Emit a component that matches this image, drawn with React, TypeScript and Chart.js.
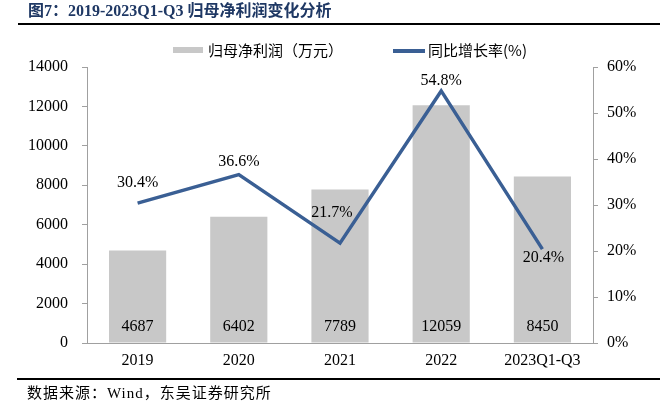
import React, { useEffect, useRef } from "react";
import { Chart, registerables } from "chart.js";

Chart.register(...registerables);

const categories = ["2019", "2020", "2021", "2022", "2023Q1-Q3"];
const profitValues = [4687, 6402, 7789, 12059, 8450];
const growthValues = [30.4, 36.6, 21.7, 54.8, 20.4];
const leftTickValues = [0, 2000, 4000, 6000, 8000, 10000, 12000, 14000];
const rightTickValues = [0, 10, 20, 30, 40, 50, 60];

const profitLabel = "归母净利润（万元）";
const growthLabel = "同比增长率(%)";
const titleText = "图7：2019-2023Q1-Q3 归母净利润变化分析";
const sourceText = "数据来源：Wind，东吴证券研究所";

// label placement style (offset from each growth point, px)
const growthLabelOffsets: [number, number][] = [
  [0, -20],
  [0, -13],
  [-8, -30],
  [0, -10],
  [1, 9],
];

const BAR_COLOR = "#C8C8C8";
const LINE_COLOR = "#3A5F94";
const AXIS_COLOR = "#A0A0A0";
const TITLE_COLOR = "#1F3864";
const SERIF = "'Liberation Serif', 'Noto Sans CJK SC', serif";
const CJK = "'Noto Sans CJK SC', 'Liberation Serif', sans-serif";

const valueLabelPlugin = {
  id: "valueLabels",
  afterDatasetsDraw(chart: any) {
    const ctx = chart.ctx;
    ctx.save();
    ctx.font = "16px 'Liberation Serif'";
    ctx.fillStyle = "#000";
    ctx.textAlign = "center";
    ctx.textBaseline = "middle";
    const barMeta = chart.getDatasetMeta(0);
    barMeta.data.forEach((el: any, i: number) => {
      ctx.fillText(String(profitValues[i]), el.x, el.base - 16);
    });
    const lineMeta = chart.getDatasetMeta(1);
    lineMeta.data.forEach((el: any, i: number) => {
      const [dx, dy] = growthLabelOffsets[i] || [0, -12];
      ctx.fillText(growthValues[i].toFixed(1) + "%", el.x + dx, el.y + dy);
    });
    ctx.restore();
  },
};

export default function App() {
  const canvasRef = useRef<HTMLCanvasElement | null>(null);

  useEffect(() => {
    if (!canvasRef.current) return;
    Chart.defaults.font.family = SERIF;
    const chart = new Chart(canvasRef.current, {
      type: "bar",
      data: {
        labels: categories,
        datasets: [
          {
            type: "bar",
            label: profitLabel,
            data: profitValues,
            backgroundColor: BAR_COLOR,
            borderWidth: 0,
            barPercentage: 0.565,
            categoryPercentage: 1,
            yAxisID: "y",
            order: 2,
          },
          {
            type: "line",
            label: growthLabel,
            data: growthValues,
            borderColor: LINE_COLOR,
            backgroundColor: LINE_COLOR,
            borderWidth: 3.5,
            pointRadius: 0,
            pointHoverRadius: 0,
            tension: 0,
            fill: false,
            yAxisID: "y1",
            order: 1,
          } as any,
        ],
      },
      options: {
        responsive: false,
        animation: false,
        layout: { padding: { top: 67, left: 0, right: 0, bottom: 0 } },
        plugins: {
          legend: { display: false },
          tooltip: { enabled: false },
          title: { display: false },
        },
        scales: {
          x: {
            offset: true,
            grid: { display: true, drawOnChartArea: false, drawTicks: false },
            border: { display: true, color: AXIS_COLOR, width: 1 },
            ticks: { padding: 8, color: "#000", font: { size: 16, family: SERIF } },
            afterFit: (s: any) => {
              s.height = 77;
            },
          },
          y: {
            position: "left",
            min: 0,
            max: 14000,
            afterBuildTicks: (s: any) => {
              s.ticks = leftTickValues.map((v) => ({ value: v }));
            },
            grid: {
              drawOnChartArea: false,
              drawTicks: true,
              tickLength: 5,
              color: AXIS_COLOR,
            },
            border: { display: true, color: AXIS_COLOR, width: 1 },
            ticks: {
              padding: 14,
              color: "#000",
              font: { size: 16, family: SERIF },
              callback: (v: any) => String(v),
            },
            afterFit: (s: any) => {
              s.width = 87;
            },
          },
          y1: {
            position: "right",
            min: 0,
            max: 60,
            afterBuildTicks: (s: any) => {
              s.ticks = rightTickValues.map((v) => ({ value: v }));
            },
            grid: {
              drawOnChartArea: false,
              drawTicks: true,
              tickLength: 5,
              color: AXIS_COLOR,
            },
            border: { display: true, color: AXIS_COLOR, width: 1 },
            ticks: {
              padding: 9,
              color: "#000",
              font: { size: 16, family: SERIF },
              callback: (v: any) => v + "%",
            },
            afterFit: (s: any) => {
              s.width = 67;
            },
          },
        },
      } as any,
      plugins: [valueLabelPlugin],
    });
    return () => chart.destroy();
  }, []);

  const abs = (style: React.CSSProperties): React.CSSProperties => ({
    position: "absolute",
    whiteSpace: "nowrap",
    ...style,
  });

  return (
    <div
      style={{
        position: "fixed",
        left: 0,
        top: 0,
        width: 660,
        height: 420,
        background: "#fff",
        overflow: "hidden",
      }}
    >
      <canvas
        ref={canvasRef}
        width={660}
        height={420}
        style={{ position: "absolute", left: 0, top: 0, width: 660, height: 420 }}
      />
      <div
        style={abs({
          left: 28,
          top: 1,
          fontFamily: SERIF,
          fontWeight: "bold",
          fontSize: 16,
          lineHeight: "20px",
          color: TITLE_COLOR,
        })}
      >
        {titleText}
      </div>
      <div style={abs({ left: 18, top: 23, width: 642, height: 2, background: "#000" })} />
      <div style={abs({ left: 173, top: 47, width: 30, height: 6, background: BAR_COLOR })} />
      <div
        style={abs({
          left: 208,
          top: 41,
          fontFamily: CJK,
          fontSize: 15,
          lineHeight: "18px",
          color: "#000",
        })}
      >
        {profitLabel}
      </div>
      <div style={abs({ left: 393, top: 49, width: 32, height: 4, background: LINE_COLOR })} />
      <div
        style={abs({
          left: 428,
          top: 41,
          fontFamily: CJK,
          fontSize: 15,
          lineHeight: "18px",
          color: "#000",
        })}
      >
        {growthLabel}
      </div>
      <div style={abs({ left: 17, top: 378, width: 643, height: 2, background: "#000" })} />
      <div
        style={abs({
          left: 27,
          top: 384,
          fontFamily: SERIF,
          fontSize: 15,
          lineHeight: "18px",
          letterSpacing: "1px",
          color: "#000",
        })}
      >
        {sourceText}
      </div>
    </div>
  );
}
